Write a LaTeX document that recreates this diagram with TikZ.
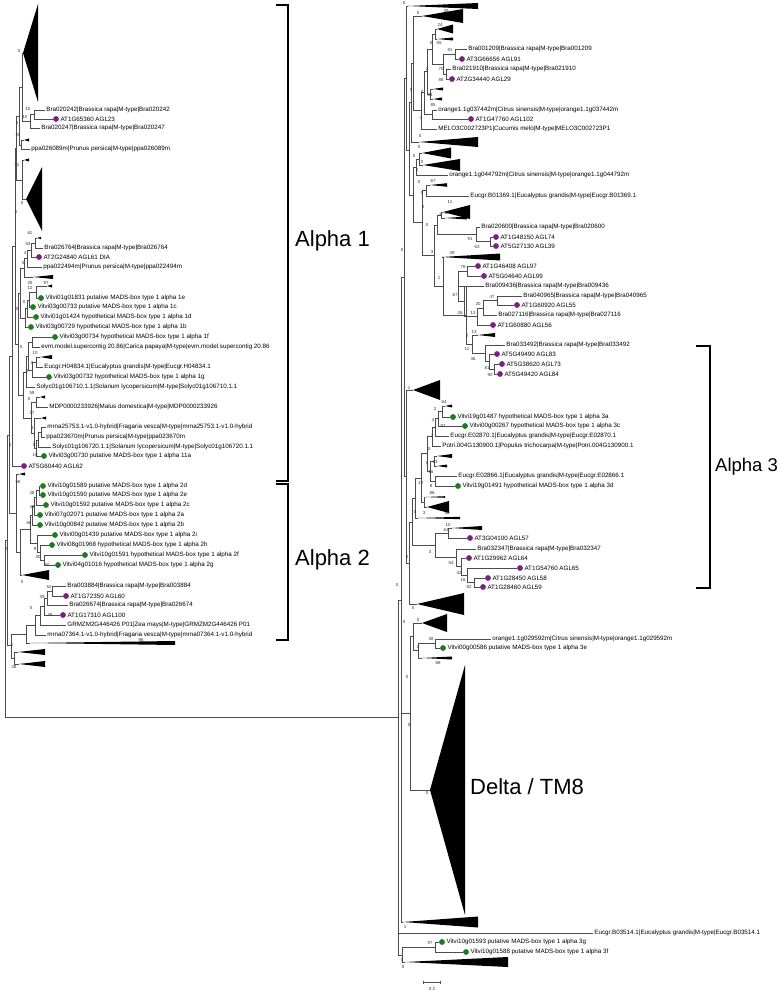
\documentclass[tikz,border=0pt]{standalone}
\usepackage{fontspec}
\setmainfont{Liberation Sans}
\definecolor{agl}{HTML}{7B1F80}
\definecolor{vit}{HTML}{1E7A1E}
\tikzset{br/.style={draw=black!70, line width=0.45pt},
  leaf/.style={anchor=west, inner sep=1.2pt, font=\fontsize{6.25}{7}\selectfont},
  bs/.style={inner sep=0pt, font=\fontsize{4.4}{5}\selectfont, text=black!80},
  agldot/.style={circle, fill=agl, inner sep=0pt, minimum size=5.8pt},
  vitdot/.style={circle, fill=vit, inner sep=0pt, minimum size=5.8pt},
  brk/.style={line width=1.6pt},
  grp/.style={anchor=west, inner sep=0pt, font=\fontsize{22}{24}\selectfont}}
\newcommand\tleaf[4]{\node[leaf] (#1) at (#2,#3) {#4};}
\newcommand\dleaf[5]{\node[#2] (#1) at (#3,#4) {}; \node[leaf] (#1t) at (#1.east) {#5};}
\newcommand\clade[5]{\coordinate (#1) at (#2,#3); \fill (#1) -- (#4,#3-#5) -- (#4,#3+#5) -- cycle;}
\newcommand\inode[3]{\coordinate (#1) at (#2,#3);}
\newcommand\kids[2]{\foreach \c in {#2}{\draw[br] (#1) |- (\c);}}

\begin{document}
\begin{tikzpicture}[x=1pt,y=-1pt]
\useasboundingbox (0,0) rectangle (777,992);

% left tree
\clade{t1}{23}{53}{38}{49}
\tleaf{bra242}{45}{110}{Bra020242|Brassica rapa|M-type|Bra020242}
\dleaf{at23}{agldot}{56}{119}{AT1G65360 AGL23}
\tleaf{bra247}{40}{128}{Bra020247|Brassica rapa|M-type|Bra020247}
\inode{a1}{34}{114} \kids{a1}{bra242.west,at23.west}
\inode{a2}{30}{121} \kids{a2}{a1,bra247.west}
\inode{a3}{22}{87} \kids{a3}{t1,a2}
\clade{s1}{24}{140}{29}{1.5}
\tleaf{ppa089}{30}{149}{ppa026089m|Prunus persica|M-type|ppa026089m}
\inode{a4}{21}{145} \kids{a4}{s1,ppa089.west}
\inode{a5}{19}{116} \kids{a5}{a3,a4}
\clade{s2}{24}{160}{29}{1.5}
\clade{t2}{26}{199}{42}{32}
\inode{a6}{22}{180} \kids{a6}{s2,t2}
\inode{a7}{16}{148} \kids{a7}{a5,a6}

\clade{s3}{37}{238}{41}{1.2}
\tleaf{bra764}{43}{248}{Bra026764|Brassica rapa|M-type|Bra026764}
\inode{b1}{35}{243} \kids{b1}{s3,bra764.west}
\dleaf{at61}{agldot}{39}{257}{AT2G24840 AGL61 DIA}
\inode{b2}{31}{250} \kids{b2}{b1,at61.west}
\tleaf{ppa494}{42}{267}{ppa022494m|Prunus persica|M-type|ppa022494m}
\inode{b3}{27}{258} \kids{b3}{b2,ppa494.west}
\clade{s4}{33}{277}{53}{2}
\inode{b4}{24}{268} \kids{b4}{b3,s4}

\clade{s5}{47}{286}{52}{1.5}
\dleaf{v1e}{vitdot}{41}{298}{Vitvi01g01831 putative MADS-box type 1 alpha 1e}
\inode{c1}{36}{292} \kids{c1}{s5,v1e.west}
\dleaf{v1c}{vitdot}{33}{307}{Vitvi03g00733 putative MADS-box type 1 alpha 1c}
\inode{c2}{29}{300} \kids{c2}{c1,v1c.west}
\dleaf{v1d}{vitdot}{36}{317}{Vitvi01g01424 hypothetical MADS-box type 1 alpha 1d}
\inode{c3}{27}{308} \kids{c3}{c2,v1d.west}
\dleaf{v1b}{vitdot}{31}{327}{Vitvi03g00729 hypothetical MADS-box type 1 alpha 1b}
\inode{c4}{25}{318} \kids{c4}{c3,v1b.west}

\dleaf{v1f}{vitdot}{55}{337}{Vitvi03g00734 hypothetical MADS-box type 1 alpha 1f}
\tleaf{evm}{40}{347}{evm.model.supercontig 20.86|Carica papaya|M-type|evm.model.supercontig 20.86}
\inode{d1}{32}{342} \kids{d1}{v1f.west,evm.west}
\clade{s6}{40}{357}{52}{2}
\tleaf{eucH}{43}{367}{Eucgr.H04834.1|Eucalyptus grandis|M-type|Eucgr.H04834.1}
\inode{d2}{36}{362} \kids{d2}{s6,eucH.west}
\dleaf{v1g}{vitdot}{49}{377}{Vitvi03g00732 hypothetical MADS-box type 1 alpha 1g}
\inode{d3}{32}{370} \kids{d3}{d2,v1g.west}
\inode{d4}{28}{356} \kids{d4}{d1,d3}
\tleaf{soly710}{35}{387}{Solyc01g106710.1.1|Solanum lycopersicum|M-type|Solyc01g106710.1.1}
\inode{d5}{26}{372} \kids{d5}{d4,soly710.west}
\clade{s7}{40}{397}{45}{1.5}
\tleaf{mdp}{48}{407}{MDP0000233926|Malus domestica|M-type|MDP0000233926}
\inode{e1}{36}{402} \kids{e1}{s7,mdp.west}
\clade{s8}{41}{418}{46}{1.5}
\tleaf{mrna257}{46}{427}{mrna25753.1-v1.0-hybrid|Fragaria vesca|M-type|mrna25753.1-v1.0-hybrid}
\tleaf{ppa670}{45}{437}{ppa023670m|Prunus persica|M-type|ppa023670m}
\inode{e2}{41}{432} \kids{e2}{mrna257.west,ppa670.west}
\tleaf{soly720}{51}{447}{Solyc01g106720.1.1|Solanum lycopersicum|M-type|Solyc01g106720.1.1}
\inode{e3}{38}{440} \kids{e3}{e2,soly720.west}
\dleaf{v11a}{vitdot}{44}{456}{Vitvi03g00730 putative MADS-box type 1 alpha 11a}
\inode{e4}{36}{448} \kids{e4}{e3,v11a.west}
\inode{e5}{34}{433} \kids{e5}{s8,e4}
\inode{e6}{31}{418} \kids{e6}{e1,e5}
\inode{e7}{23}{395} \kids{e7}{d5,e6}
\dleaf{at62}{agldot}{24}{466}{AT5G60440 AGL62}
\inode{q1}{20}{293} \kids{q1}{b4,c4}
\inode{q2}{18}{344} \kids{q2}{q1,e7}
\inode{q3}{15}{246} \kids{q3}{a7,q2}
\inode{q4}{12}{356} \kids{q4}{q3,at62.west}

\clade{s9}{19}{474}{25}{1.5}
\dleaf{v2d}{vitdot}{43}{486}{Vitvi10g01589 putative MADS-box type 1 alpha 2d}
\dleaf{v2e}{vitdot}{43}{495}{Vitvi10g01590 putative MADS-box type 1 alpha 2e}
\inode{h1}{39}{490} \kids{h1}{v2d.west,v2e.west}
\dleaf{v2c}{vitdot}{46}{505}{Vitvi10g01592 putative MADS-box type 1 alpha 2c}
\inode{h2}{36}{497} \kids{h2}{h1,v2c.west}
\dleaf{v2a}{vitdot}{40}{515}{Vitvi07g02071 putative MADS-box type 1 alpha 2a}
\inode{h3}{34}{506} \kids{h3}{h2,v2a.west}
\dleaf{v2b}{vitdot}{40}{525}{Vitvi10g00842 putative MADS-box type 1 alpha 2b}
\inode{h4}{32}{515} \kids{h4}{h3,v2b.west}
\dleaf{v2i}{vitdot}{55}{535}{Vitvi00g01439 putative MADS-box type 1 alpha 2i}
\dleaf{v2h}{vitdot}{52}{545}{Vitvi08g01968 hypothetical MADS-box type 1 alpha 2h}
\dleaf{v2f}{vitdot}{85}{555}{Vitvi10g01591 hypothetical MADS-box type 1 alpha 2f}
\dleaf{v2g}{vitdot}{58}{565}{Vitvi04g01016 hypothetical MADS-box type 1 alpha 2g}
\inode{h5}{44}{560} \kids{h5}{v2f.west,v2g.west}
\inode{h6}{40}{552} \kids{h6}{v2h.west,h5}
\inode{h7}{37}{543} \kids{h7}{v2i.west,h6}
\inode{h8}{30}{529} \kids{h8}{h4,h7}
\clade{t3}{22}{575}{49}{5}
\inode{h9}{20}{552} \kids{h9}{h8,t3}
\inode{h10}{16}{513} \kids{h10}{s9,h9}
\inode{q5}{9}{435} \kids{q5}{q4,h10}

\tleaf{bra884}{66}{586}{Bra003884|Brassica rapa|M-type|Bra003884}
\dleaf{at60}{agldot}{66}{596}{AT1G72350 AGL60}
\inode{k1}{52}{591} \kids{k1}{bra884.west,at60.west}
\tleaf{bra674}{68}{605}{Bra026674|Brassica rapa|M-type|Bra026674}
\inode{k2}{47}{598} \kids{k2}{k1,bra674.west}
\dleaf{at100}{agldot}{63}{615}{AT1G17310 AGL100}
\inode{k3}{44}{606} \kids{k3}{k2,at100.west}
\tleaf{grmzm}{66}{625}{GRMZM2G446426 P01|Zea mays|M-type|GRMZM2G446426 P01}
\inode{k4}{40}{615} \kids{k4}{k3,grmzm.west}
\tleaf{mrna073}{46}{635}{mrna07364.1-v1.0-hybrid|Fragaria vesca|M-type|mrna07364.1-v1.0-hybrid}
\inode{k5}{35}{625} \kids{k5}{k4,mrna073.west}
\clade{s10}{30}{643}{175}{2}
\inode{k6}{26}{634} \kids{k6}{k5,s10}
\clade{s11}{18}{652}{45}{3}
\clade{s12}{19}{664}{45}{3}
\inode{k7}{14}{658} \kids{k7}{s11,s12}
\inode{k8}{11}{645} \kids{k8}{k6,k7}
\inode{q6}{7}{540} \kids{q6}{q5,k8}

% right tree
\clade{tr0}{408}{6}{478}{3}
\clade{tr1}{422}{16}{463}{7}
\clade{tr2}{437}{29}{453}{4.5}
\clade{tr3}{437}{39}{453}{1.5}
\inode{m4}{435}{34} \kids{m4}{tr2,tr3}
\tleaf{bra209}{467}{49}{Bra001209|Brassica rapa|M-type|Bra001209}
\dleaf{at91}{agldot}{462}{59}{AT3G66656 AGL91}
\inode{m1}{455}{54} \kids{m1}{bra209.west,at91.west}
\tleaf{bra910}{451}{69}{Bra021910|Brassica rapa|M-type|Bra021910}
\dleaf{at29}{agldot}{452}{79}{AT2G34440 AGL29}
\inode{m2}{446}{74} \kids{m2}{bra910.west,at29.west}
\inode{m3}{443}{64} \kids{m3}{m1,m2}
\inode{m5}{432}{49} \kids{m5}{m4,m3}
\clade{tr4}{433}{89}{443}{1.5}
\clade{tr5}{433}{99}{442}{1.5}
\inode{m6}{430}{94} \kids{m6}{tr4,tr5}
\inode{m7}{427}{71} \kids{m7}{m5,m6}
\tleaf{or442}{437}{110}{orange1.1g037442m|Citrus sinensis|M-type|orange1.1g037442m}
\dleaf{at102}{agldot}{471}{119}{AT1G47760 AGL102}
\inode{m8}{432}{114} \kids{m8}{or442.west,at102.west}
\inode{m9}{424}{92} \kids{m9}{m7,m8}
\tleaf{melo}{437}{129}{MELO3C002723P1|Cucumis melo|M-type|MELO3C002723P1}
\inode{m10}{421}{110} \kids{m10}{m9,melo.west}
\inode{m11}{413}{63} \kids{m11}{tr1,m10}
\clade{tr6}{419}{142}{478}{5}
\inode{u1}{411}{102} \kids{u1}{m11,tr6}
\clade{tr7}{422}{153}{451}{5.5}
\clade{tr8}{423}{165}{460}{6}
\inode{u2}{419}{159} \kids{u2}{tr7,tr8}
\tleaf{or792}{448}{175}{orange1.1g044792m|Citrus sinensis|M-type|orange1.1g044792m}
\inode{u3}{416}{167} \kids{u3}{u2,or792.west}
\clade{tr9}{430}{185}{447}{1.8}
\tleaf{eucB369}{469}{196}{Eucgr.B01369.1|Eucalyptus grandis|M-type|Eucgr.B01369.1}
\inode{u4}{426}{190} \kids{u4}{tr9,eucB369.west}
\clade{tr10}{443}{212}{470}{7}
\clade{tr11}{445}{218}{467}{1.5}
\inode{n1}{441}{215} \kids{n1}{tr10,tr11}
\tleaf{bra600}{480}{227}{Bra020600|Brassica rapa|M-type|Bra020600}
\dleaf{at74}{agldot}{496}{237}{AT1G48150 AGL74}
\dleaf{at39}{agldot}{496}{246}{AT5G27130 AGL39}
\inode{n2}{490}{241} \kids{n2}{at74.west,at39.west}
\inode{n3}{476}{234} \kids{n3}{bra600.west,n2}
\inode{n4}{437}{225} \kids{n4}{n1,n3}
\clade{tr12}{442}{257}{500}{3.5}
\dleaf{at97}{agldot}{478}{266}{AT1G46408 AGL97}
\dleaf{at99}{agldot}{484}{276}{AT5G04640 AGL99}
\inode{n5}{467}{271} \kids{n5}{at97.west,at99.west}
\tleaf{bra436}{484}{286}{Bra009436|Brassica rapa|M-type|Bra009436}
\tleaf{bra965}{522}{296}{Bra040965|Brassica rapa|M-type|Bra040965}
\dleaf{at55}{agldot}{517}{305}{AT1G60920 AGL55}
\inode{n6}{497}{300} \kids{n6}{bra965.west,at55.west}
\tleaf{bra116}{497}{315}{Bra027116|Brassica rapa|M-type|Bra027116}
\inode{n7}{483}{308} \kids{n7}{n6,bra116.west}
\dleaf{at56}{agldot}{493}{325}{AT1G60880 AGL56}
\inode{n8}{477}{316} \kids{n8}{n7,at56.west}
\inode{n9}{464}{301} \kids{n9}{bra436.west,n8}
\inode{n10}{458}{286} \kids{n10}{n5,n9}
\clade{tr13}{478}{335}{495}{2}
\tleaf{bra492}{505}{345}{Bra033492|Brassica rapa|M-type|Bra033492}
\dleaf{at83}{agldot}{497}{354}{AT5G49490 AGL83}
\dleaf{at73}{agldot}{502}{364}{AT5G38620 AGL73}
\dleaf{at84}{agldot}{500}{374}{AT5G49420 AGL84}
\inode{n11}{494}{369} \kids{n11}{at73.west,at84.west}
\inode{n12}{489}{361} \kids{n12}{at83.west,n11}
\inode{n13}{485}{353} \kids{n13}{bra492.west,n12}
\inode{n14}{472}{344} \kids{n14}{tr13,n13}
\inode{n15}{466}{315} \kids{n15}{n10,n14}
\inode{n16}{443}{286} \kids{n16}{tr12,n15}
\inode{n17}{434}{255} \kids{n17}{n4,n16}
\inode{u5}{422}{222} \kids{u5}{u4,n17}
\inode{u6}{413}{195} \kids{u6}{u3,u5}
\inode{u7}{409}{150} \kids{u7}{u1,u6}
\inode{u8}{406.5}{78} \kids{u8}{tr0,u7}

\clade{tr14}{413}{390}{440}{10}
\clade{tr15}{445}{406}{452}{1.5}
\dleaf{v3a}{vitdot}{453}{417}{Vitvi19g01487 hypothetical MADS-box type 1 alpha 3a}
\inode{w1}{442}{411} \kids{w1}{tr15,v3a.west}
\dleaf{v3c}{vitdot}{465}{426}{Vitvi00g00267 hypothetical MADS-box type 1 alpha 3c}
\inode{w2}{438}{418} \kids{w2}{w1,v3c.west}
\tleaf{eucE870}{449}{436}{Eucgr.E02870.1|Eucalyptus grandis|M-type|Eucgr.E02870.1}
\inode{w3}{435}{427} \kids{w3}{w2,eucE870.west}
\tleaf{potri}{441}{446}{Potri.004G130900.1|Populus trichocarpa|M-type|Potri.004G130900.1}
\inode{w4}{432}{436} \kids{w4}{w3,potri.west}
\clade{tr16}{437}{456}{452}{2}
\clade{tr17}{437}{466}{447}{1.5}
\inode{w5}{434}{461} \kids{w5}{tr16,tr17}
\tleaf{eucE866}{457}{476}{Eucgr.E02866.1|Eucalyptus grandis|M-type|Eucgr.E02866.1}
\dleaf{v3d}{vitdot}{458}{486}{Vitvi19g01491 hypothetical MADS-box type 1 alpha 3d}
\inode{w6}{435}{481} \kids{w6}{eucE866.west,v3d.west}
\inode{w7}{430}{471} \kids{w7}{w5,w6}
\inode{w8}{427}{453} \kids{w8}{w4,w7}
\clade{tr18}{425}{497}{445}{0.8}
\clade{tr19}{427}{507}{449}{6}
\inode{w9}{424}{502} \kids{w9}{tr18,tr19}
\inode{w10}{421}{478} \kids{w10}{w8,w9}
\clade{tr20}{418}{518}{460}{1.2}
\inode{w11}{415}{498} \kids{w11}{w10,tr20}
\clade{tr21}{452}{528}{482}{2}
\dleaf{at57}{agldot}{470}{538}{AT3G04100 AGL57}
\inode{x1}{448}{533} \kids{x1}{tr21,at57.west}
\tleaf{bra347}{476}{549}{Bra032347|Brassica rapa|M-type|Bra032347}
\dleaf{at64}{agldot}{469}{558}{AT1G29962 AGL64}
\dleaf{at65}{agldot}{520}{568}{AT1G54760 AGL65}
\dleaf{at58}{agldot}{488}{578}{AT1G28450 AGL58}
\dleaf{at59}{agldot}{483}{587}{AT1G28460 AGL59}
\inode{x2}{474}{582} \kids{x2}{at58.west,at59.west}
\inode{x3}{467}{575} \kids{x3}{at65.west,x2}
\inode{x4}{461}{566} \kids{x4}{at64.west,x3}
\inode{x5}{456}{557} \kids{x5}{bra347.west,x4}
\inode{x6}{435}{545} \kids{x6}{x1,x5}
\inode{x7}{412}{522} \kids{x7}{w11,x6}
\clade{tr22}{417}{604}{464}{11}
\inode{x8}{409}{563} \kids{x8}{x7,tr22}
\inode{x9}{406.5}{476} \kids{x9}{tr14,x8}

\clade{tr23}{422}{623}{447}{9}
\tleaf{or592}{491}{639}{orange1.1g029592m|Citrus sinensis|M-type|orange1.1g029592m}
\dleaf{v3e}{vitdot}{443}{648}{Vitvi00g00586 putative MADS-box type 1 alpha 3e}
\inode{y1}{435}{643} \kids{y1}{or592.west,v3e.west}
\clade{tr24}{422}{658}{452}{1.5}
\inode{y2}{418}{650} \kids{y2}{y1,tr24}
\inode{y3}{413}{636} \kids{y3}{tr23,y2}
\clade{tdelta}{430}{790}{465}{125}
\inode{y4}{410}{713} \kids{y4}{y3,tdelta}
\clade{tr25}{403}{922}{478}{5.5}
\inode{ra}{404}{277} \kids{ra}{u8,x9}
\inode{rb}{401}{600} \kids{rb}{ra,y4,tr25}
\tleaf{eucB514}{593}{933}{Eucgr.B03514.1|Eucalyptus grandis|M-type|Eucgr.B03514.1}
\dleaf{v3g}{vitdot}{442}{942}{Vitvi10g01593 putative MADS-box type 1 alpha 3g}
\dleaf{v3f}{vitdot}{466}{952}{Vitvi10g01588 putative MADS-box type 1 alpha 3f}
\inode{z1}{435}{947} \kids{z1}{v3g.west,v3f.west}
\clade{tr26}{405}{962}{508}{5}
\inode{z2}{402}{955} \kids{z2}{z1,tr26}
\inode{rc}{398}{717} \kids{rc}{rb,eucB514.west,z2}
\inode{lr}{5}{628} \kids{lr}{q6,rc}

% bootstrap values
\foreach \x/\y/\v [count=\i] in {19/51/0,28/109/10,25/117/10,17/123/0,18/135/20,17/165/11,22/203/0,
  16/212/0,30/233/61,28/244/53,25/253/4,23/263/0,30/283/20,46/283/97,30/288/12,24/302/0,17/309/0,
  21/347/0,35/353/10,32/363/0,27/371/0,32/393/59,29/399/0,32/413/27,32/428/4,34/445/5,35/455/10,
  10/445/0,18/482/58,32/493/28,32/507/49,29/523/68,35/549/9,38/557/30,47/565/50,7/549/0,22/582/0,
  49/587/52,42/597/39,31/608/0,50/615/38,141/640/96,12/645/1,14/667/28}
  \node[bs] (bl\i) at (\x,\y) {\v};
\foreach \x/\y/\v [count=\i] in {404/3/0,418/13/0,446/11/39,440/25/24,431/43/0,439/43/55,450/50/81,
  441/69/70,427/69/2,441/80/88,422/92/0,430/95/34,433/105/85,421/118/1,411/90/0,420/136/0,419/147/0,
  414/156/0,422/162/0,417/170/0,419/182/0,433/181/67,422/193/0,423/207/0,450/202/11,440/215/4,
  447/213/28,427/225/0,470/239/91,477/247/63,432/252/3,452/253/39,402/250/0,439/278/1,463/267/76,
  455/295/67,492/297/47,478/304/30,460/313/26,473/313/13,474/332/13,467/336/2,467/349/11,473/359/36,
  487/368/81,490/375/90,409/388/1,444/402/64,435/409/2,433/420/4,443/426/87,432/436/2,429/449/0,
  427/463/0,435/462/23,431/472/16,431/486/8,421/483/17,432/493/86,447/513/58,424/513/3,415/512/0,
  448/525/10,446/530/61,430/552/3,451/563/54,459/573/42,463/580/16,469/587/82,407/557/0,397/585/0,
  413/608/0,404/622/0,418/620/0,431/639/38,418/647/2,438/663/88,407/677/0,409/725/0,427/793/0,
  405/927/1,430/943/97,402/960/0,403/967/0}
  \node[bs] (br\i) at (\x,\y) {\v};

% scale bar
\coordinate (sb1) at (423,982); \coordinate (sb2) at (440,982);
\draw[br] (sb1) -- (sb2) (sb1) ++(0,-1.5) -- ++(0,3) (sb2) ++(0,-1.5) -- ++(0,3);
\node[bs] (sbl) at (432,989) {0.2};

% groups
\draw[brk] (276,5) -- (288,5) -- (288,481) -- (276,481);
\draw[brk] (276,484) -- (288,484) -- (288,640) -- (276,640);
\draw[brk] (696,346) -- (710,346) -- (710,588) -- (696,588);
\node[grp] (alpha1) at (295,241) {Alpha 1};
\node[grp] (alpha2) at (295,560) {Alpha 2};
\node[grp, font=\fontsize{18.5}{20}\selectfont] (alpha3) at (715,467) {Alpha 3};
\node[grp] (delta) at (470,787) {Delta / TM8};
\end{tikzpicture}
\end{document}
